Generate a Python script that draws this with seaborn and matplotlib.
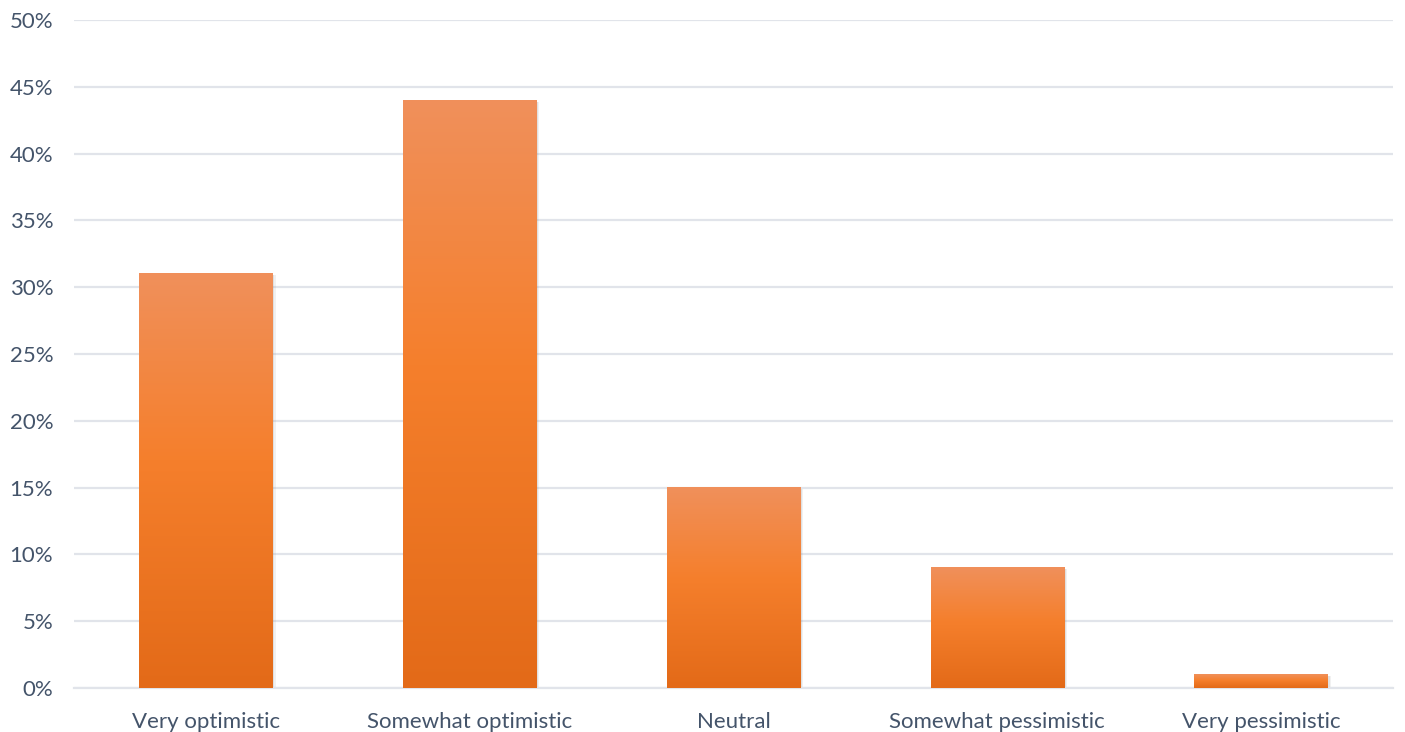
import numpy as np
import pandas as pd
import matplotlib
matplotlib.use("Agg")
import matplotlib.pyplot as plt
from matplotlib.colors import LinearSegmentedColormap
from matplotlib.patches import Rectangle
import seaborn as sns

categories = ["Very optimistic", "Somewhat optimistic", "Neutral",
              "Somewhat pessimistic", "Very pessimistic"]
values = [31, 44, 15, 9, 1]
y_ticks = [0, 5, 10, 15, 20, 25, 30, 35, 40, 45, 50]

df = pd.DataFrame({"category": categories, "value": values})

sns.set_theme(style="white")
plt.rcParams["font.family"] = ["Lato", "DejaVu Sans"]

fig = plt.figure(figsize=(14.05, 7.32), dpi=100)
ax = fig.add_axes([74 / 1405, 44 / 732, (1393 - 74) / 1405, (688 - 20) / 732])

sns.barplot(data=df, x="category", y="value", ax=ax, width=0.505,
            color="#F47B20", saturation=1, zorder=3)

ax.set_ylim(0, 50)
ax.set_xlim(-0.5, len(categories) - 0.5)
ax.set_yticks(y_ticks)
ax.set_yticklabels([f"{t}%" for t in y_ticks])
ax.set_xlabel("")
ax.set_ylabel("")

grid_color = "#E1E4EA"
ax.grid(axis="y", color=grid_color, linewidth=1.6, zorder=0)
ax.set_axisbelow(True)
for s in ["top", "right", "left"]:
    ax.spines[s].set_visible(False)
ax.spines["bottom"].set_color(grid_color)
ax.spines["bottom"].set_linewidth(1.6)

text_color = "#44546A"
ax.tick_params(axis="y", length=0, pad=15, labelsize=16, labelcolor=text_color)
ax.tick_params(axis="x", length=0, pad=17, labelsize=16, labelcolor=text_color)

cmap = LinearSegmentedColormap.from_list(
    "barfill", [(0.0, "#E36A18"), (0.55, "#F57F2C"), (1.0, "#F0905B")])
grad = np.linspace(0, 1, 256).reshape(-1, 1)

for p in list(ax.patches):
    x, y = p.get_x(), p.get_y()
    w, h = p.get_width(), p.get_height()
    # soft shadow
    for dx, a in [(0.012, 0.10), (0.007, 0.14)]:
        sh = Rectangle((x + dx, y - 0.12), w, h, facecolor="#7F7F7F",
                       edgecolor="none", alpha=a, zorder=2.5)
        ax.add_patch(sh)
    ax.imshow(grad, extent=[x, x + w, y, y + h], origin="lower",
              cmap=cmap, aspect="auto", zorder=3.5, interpolation="bicubic")
    p.set_facecolor("none")
    p.set_edgecolor("none")

ax.set_xlim(-0.5, len(categories) - 0.5)
ax.set_ylim(0, 50)

fig.savefig("out.png", dpi=100, facecolor="white")
